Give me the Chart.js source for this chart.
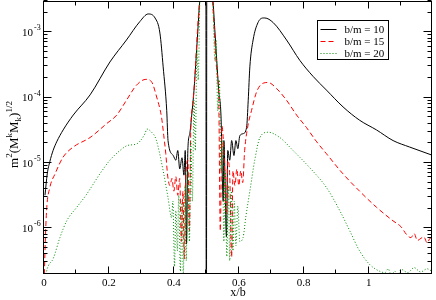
<!DOCTYPE html>
<html>
<head>
<meta charset="utf-8">
<script src="https://cdn.jsdelivr.net/npm/chart.js@4.4.0/dist/chart.umd.min.js"></script>
<style>
  html, body { margin: 0; padding: 0; background: #fff; }
</style>
</head>
<body>
<canvas id="myChart" width="436" height="300"></canvas>
<script>
// series names, in legend order
const seriesNames = ['b/m = 10', 'b/m = 15', 'b/m = 20'];

// [x/b, m^2 (M^k M_k)^(1/2)]
const seriesB10 = [
  [0.003, 3.2e-6], [0.010, 6.8e-6], [0.018, 1.05e-5], [0.028, 1.55e-5], [0.039, 2.1e-5],
  [0.059, 3.2e-5], [0.090, 5.4e-5], [0.142, 1.1e-4], [0.203, 3.5e-4], [0.254, 7.6e-4],
  [0.295, 1.45e-3], [0.321, 1.9e-3], [0.342, 1.65e-3], [0.357, 9.7e-4], [0.367, 2.95e-4],
  [0.378, 6.3e-5], [0.382, 2.2e-5], [0.398, 1.3e-5], [0.406, 1.1e-5], [0.412, 1.55e-5],
  [0.418, 8.1e-6], [0.425, 1.2e-5], [0.431, 6.5e-6], [0.435, 1.55e-5], [0.439, 5.8e-7],
  [0.443, 1.55e-5], [0.449, 2.8e-5], [0.455, 5.4e-5], [0.462, 1.3e-4], [0.468, 3.7e-4],
  [0.474, 1.1e-3], [0.480, 3.2e-3], [0.490, 6.3e-3], [0.4985, 1e-2], [0.500, 1e-9],
  [0.5015, 1e-2], [0.510, 6.3e-3], [0.520, 3.2e-3], [0.526, 1.1e-3], [0.532, 3.7e-4],
  [0.538, 1.3e-4], [0.545, 5.4e-5], [0.552, 2.6e-6], [0.554, 2.2e-5], [0.562, 7.4e-7],
  [0.566, 1.55e-5], [0.572, 1.1e-5], [0.578, 2.2e-5], [0.585, 1.3e-5], [0.591, 2.2e-5],
  [0.597, 1.65e-5], [0.603, 2.6e-5], [0.613, 2.8e-5], [0.624, 3.5e-5], [0.629, 9.1e-5],
  [0.634, 2.95e-4], [0.644, 7.6e-4], [0.659, 1.4e-3], [0.675, 1.65e-3], [0.680, 1.65e-3],
  [0.706, 1.4e-3], [0.747, 7.6e-4], [0.788, 3.7e-4], [0.829, 2.1e-4], [0.870, 1.3e-4],
  [0.921, 7.2e-5], [0.972, 4.5e-5], [1.024, 3.2e-5], [1.075, 2.2e-5], [1.126, 1.75e-5],
  [1.198, 1.3e-5]
];

const seriesB15 = [
  [0.0005, 1.5e-7], [0.003, 4.5e-7], [0.008, 1.9e-6], [0.018, 4.2e-6], [0.034, 6.8e-6],
  [0.059, 1.23e-5], [0.090, 1.75e-5], [0.142, 2.45e-5], [0.193, 4.0e-5], [0.224, 5.4e-5],
  [0.254, 9.1e-5], [0.285, 1.55e-4], [0.314, 1.9e-4], [0.331, 1.75e-4], [0.347, 1.02e-4],
  [0.362, 5.0e-5], [0.369, 2.6e-5], [0.375, 1.4e-5], [0.381, 6.3e-6], [0.388, 4.5e-6],
  [0.394, 5.8e-6], [0.400, 3.7e-6], [0.406, 6.2e-6], [0.412, 3.2e-6], [0.418, 5.8e-6],
  [0.423, 6.3e-7], [0.428, 3.7e-6], [0.432, 3.4e-7], [0.437, 6.5e-6], [0.443, 1.1e-5],
  [0.448, 9.1e-7], [0.452, 3.2e-5], [0.458, 7.6e-5], [0.465, 2.2e-4], [0.471, 7.6e-4],
  [0.477, 2.2e-3], [0.485, 5e-3], [0.515, 5e-3], [0.520, 2.6e-3], [0.526, 7.6e-4],
  [0.532, 2.6e-4], [0.538, 1.07e-4], [0.543, 9.1e-7], [0.548, 3.7e-5], [0.554, 1.55e-5],
  [0.562, 1.66e-6], [0.566, 1.1e-5], [0.572, 6.5e-6], [0.578, 3.6e-7], [0.582, 7.6e-6],
  [0.588, 4.5e-6], [0.594, 8.1e-6], [0.600, 4.5e-6], [0.606, 7.6e-6], [0.612, 5.0e-6],
  [0.618, 1.55e-5], [0.628, 3.7e-5], [0.639, 6.3e-5], [0.655, 1.23e-4], [0.675, 1.66e-4],
  [0.690, 1.7e-4], [0.716, 1.38e-4], [0.747, 9.1e-5], [0.778, 5.4e-5], [0.808, 3.5e-5],
  [0.840, 2.1e-5], [0.870, 1.38e-5], [0.921, 6.8e-6], [0.972, 3.7e-6], [1.024, 2.1e-6],
  [1.075, 1.3e-6], [1.100, 1.05e-6], [1.116, 8.1e-7], [1.130, 7.2e-7], [1.140, 8.3e-7],
  [1.150, 6.5e-7], [1.157, 6.8e-7], [1.170, 7.4e-7], [1.180, 6.0e-7], [1.190, 7.1e-7],
  [1.198, 6.3e-7]
];

const seriesB20 = [
  [0.004, 1.6e-7], [0.008, 2.2e-7], [0.029, 3.5e-7], [0.049, 7.2e-7], [0.070, 1.3e-6],
  [0.101, 2.1e-6], [0.131, 3.3e-6], [0.172, 6.8e-6], [0.203, 1.1e-5], [0.234, 1.55e-5],
  [0.259, 1.86e-5], [0.285, 1.95e-5], [0.311, 2.8e-5], [0.317, 3.3e-5], [0.330, 3.0e-5],
  [0.345, 2.3e-5], [0.367, 7.6e-6], [0.382, 2.95e-6], [0.393, 1.45e-6], [0.397, 2.6e-6],
  [0.402, 2.6e-7], [0.406, 1.86e-6], [0.411, 4.5e-7], [0.415, 3.2e-6], [0.420, 2.2e-7],
  [0.425, 2.6e-6], [0.429, 1.8e-7], [0.434, 4.5e-6], [0.438, 3.2e-7], [0.443, 7.6e-6],
  [0.448, 6.3e-7], [0.452, 2.2e-5], [0.457, 2.6e-6], [0.462, 9.1e-5], [0.466, 1.55e-5],
  [0.471, 5.4e-4], [0.475, 1.86e-4], [0.480, 3.2e-3], [0.486, 6e-3], [0.514, 6e-3],
  [0.522, 1.55e-3], [0.526, 3.7e-4], [0.530, 7.6e-4], [0.535, 6.3e-5], [0.540, 1.86e-4],
  [0.545, 7.6e-6], [0.549, 2.2e-5], [0.554, 6.3e-7], [0.558, 7.6e-6], [0.563, 3.7e-7],
  [0.568, 4.5e-6], [0.572, 3.2e-7], [0.577, 3.7e-6], [0.582, 4.5e-7], [0.586, 2.6e-6],
  [0.591, 5.4e-7], [0.597, 2.2e-6], [0.603, 6.3e-7], [0.613, 7.2e-7], [0.622, 1.55e-6],
  [0.634, 3.7e-6], [0.649, 1.1e-5], [0.665, 2.45e-5], [0.690, 2.95e-5], [0.726, 2.45e-5],
  [0.767, 1.55e-5], [0.818, 8.5e-6], [0.870, 4.2e-6], [0.911, 1.86e-6], [0.942, 9.1e-7],
  [0.972, 4.5e-7], [1.003, 2.8e-7], [1.034, 2.2e-7], [1.050, 2.1e-7], [1.060, 2.4e-7],
  [1.070, 1.9e-7], [1.080, 2.2e-7], [1.090, 1.95e-7], [1.100, 2.35e-7], [1.120, 2.1e-7],
  [1.140, 2.5e-7], [1.160, 2.15e-7], [1.180, 2.4e-7], [1.195, 2.2e-7]
];

// tick labels
const xTickValues = [0, 0.2, 0.4, 0.6, 0.8, 1];
const yTickValues = [1e-6, 1e-5, 1e-4, 1e-3];
const yTickExps = ['-6', '-5', '-4', '-3'];

const serif = '"Liberation Serif", "DejaVu Serif", serif';

function toPoints(pairs) {
    return pairs.map(p => ({ x: p[0], y: p[1] }));
}

// frame, inward ticks, y labels, axis titles and legend
const framePlugin = {
    id: 'frame',
    afterDraw(chart) {
        const ctx = chart.ctx;
        const a = chart.chartArea;
        const xs = chart.scales.x;
        const ys = chart.scales.y;
        const L = Math.round(a.left) - 0.5, R = Math.round(a.right) - 0.5;
        const T = Math.round(a.top) + 0.5, B = Math.round(a.bottom) - 0.5;

        ctx.save();
        ctx.strokeStyle = '#000';
        ctx.lineWidth = 1;
        ctx.strokeRect(L, T, R - L, B - T);

        // x ticks every 0.1, long on 0.2
        ctx.beginPath();
        for (let i = 0; i <= 11; i++) {
            const px = Math.round(xs.getPixelForValue(i / 10)) - 0.5;
            const len = i % 2 === 0 ? 7 : 4;
            ctx.moveTo(px, B); ctx.lineTo(px, B - len);
            ctx.moveTo(px, T); ctx.lineTo(px, T + len);
        }
        // y ticks, decades and 2..9
        for (let e = -7; e <= -3; e++) {
            for (let m = 1; m <= 9; m++) {
                const v = m * Math.pow(10, e);
                if (v < ys.min || v > ys.max) continue;
                const py = Math.round(ys.getPixelForValue(v)) - 0.5;
                const len = m === 1 ? 8 : 4;
                ctx.moveTo(L, py); ctx.lineTo(L + len, py);
                ctx.moveTo(R, py); ctx.lineTo(R - len, py);
            }
        }
        ctx.stroke();

        // y tick labels 10^n
        ctx.fillStyle = '#000';
        yTickValues.forEach((v, i) => {
            const py = ys.getPixelForValue(v);
            ctx.font = '11px ' + serif;
            ctx.textAlign = 'right';
            ctx.textBaseline = 'middle';
            ctx.fillText('10', a.left - 11, py + 1);
            ctx.font = '8px ' + serif;
            ctx.textAlign = 'left';
            ctx.fillText(yTickExps[i], a.left - 10, py - 4);
        });

        // x title
        ctx.font = '12px ' + serif;
        ctx.textAlign = 'center';
        ctx.textBaseline = 'middle';
        ctx.fillText('x/b', (a.left + a.right) / 2, 293);

        // y title with super/subscripts
        const parts = [
            ['m', 13, 0], ['2', 9, -6], ['(M', 13, 0], ['k', 9, -6],
            ['M', 13, 0], ['k', 9, 3], [')', 13, 0], ['1/2', 9, -6]
        ];
        let total = 0;
        parts.forEach(p => { ctx.font = p[1] + 'px ' + serif; total += ctx.measureText(p[0]).width; });
        ctx.translate(18, (a.top + a.bottom) / 2 - 3);
        ctx.rotate(-Math.PI / 2);
        ctx.textAlign = 'left';
        ctx.textBaseline = 'alphabetic';
        let cx = -total / 2;
        parts.forEach(p => {
            ctx.font = p[1] + 'px ' + serif;
            ctx.fillText(p[0], cx, p[2]);
            cx += ctx.measureText(p[0]).width;
        });
        ctx.setTransform(1, 0, 0, 1, 0, 0);

        // legend box
        const bx = Math.round(a.right - 115) + 0.5, by = Math.round(a.top + 19) + 0.5;
        ctx.strokeStyle = '#000';
        ctx.strokeRect(bx, by, 71, 39);
        chart.data.datasets.forEach((ds, i) => {
            const ry = Math.round(by + 8 + i * 12) + 0.5;
            ctx.strokeStyle = ds.borderColor;
            ctx.setLineDash(ds.borderDash || []);
            ctx.beginPath();
            ctx.moveTo(bx + 3, ry); ctx.lineTo(bx + 19, ry);
            ctx.stroke();
            ctx.setLineDash([]);
            ctx.font = '11px ' + serif;
            ctx.fillStyle = '#000';
            ctx.textAlign = 'left';
            ctx.textBaseline = 'middle';
            ctx.fillText(ds.label, bx + 27, ry + 0.5);
        });
        ctx.restore();
    }
};

new Chart(document.getElementById('myChart').getContext('2d'), {
    type: 'line',
    data: {
        datasets: [
            { label: seriesNames[0], data: toPoints(seriesB10), borderColor: '#000000', borderWidth: 1, order: 3 },
            { label: seriesNames[1], data: toPoints(seriesB15), borderColor: '#ff0000', borderWidth: 1, borderDash: [5, 3], order: 2 },
            { label: seriesNames[2], data: toPoints(seriesB20), borderColor: '#008c00', borderWidth: 1, borderDash: [1, 2], order: 1 }
        ]
    },
    options: {
        responsive: false,
        animation: false,
        layout: { padding: { left: 0, right: 4, top: 1, bottom: 0 } },
        elements: { point: { radius: 0 }, line: { cubicInterpolationMode: 'monotone' } },
        plugins: { legend: { display: false }, tooltip: { enabled: false } },
        scales: {
            x: {
                type: 'linear',
                min: 0,
                max: 1.195,
                grid: { display: false, drawTicks: false },
                border: { display: false },
                afterBuildTicks: s => { s.ticks = xTickValues.map(v => ({ value: v })); },
                ticks: {
                    autoSkip: false,
                    maxRotation: 0,
                    padding: 3,
                    color: '#000',
                    font: { family: serif, size: 11 },
                    callback: v => String(v)
                },
                afterFit: s => { s.height = 26; }
            },
            y: {
                type: 'logarithmic',
                min: 2e-7,
                max: 3e-3,
                grid: { display: false, drawTicks: false },
                border: { display: false },
                ticks: { display: false },
                afterFit: s => { s.width = 44; }
            }
        }
    },
    plugins: [framePlugin]
});
</script>
</body>
</html>
